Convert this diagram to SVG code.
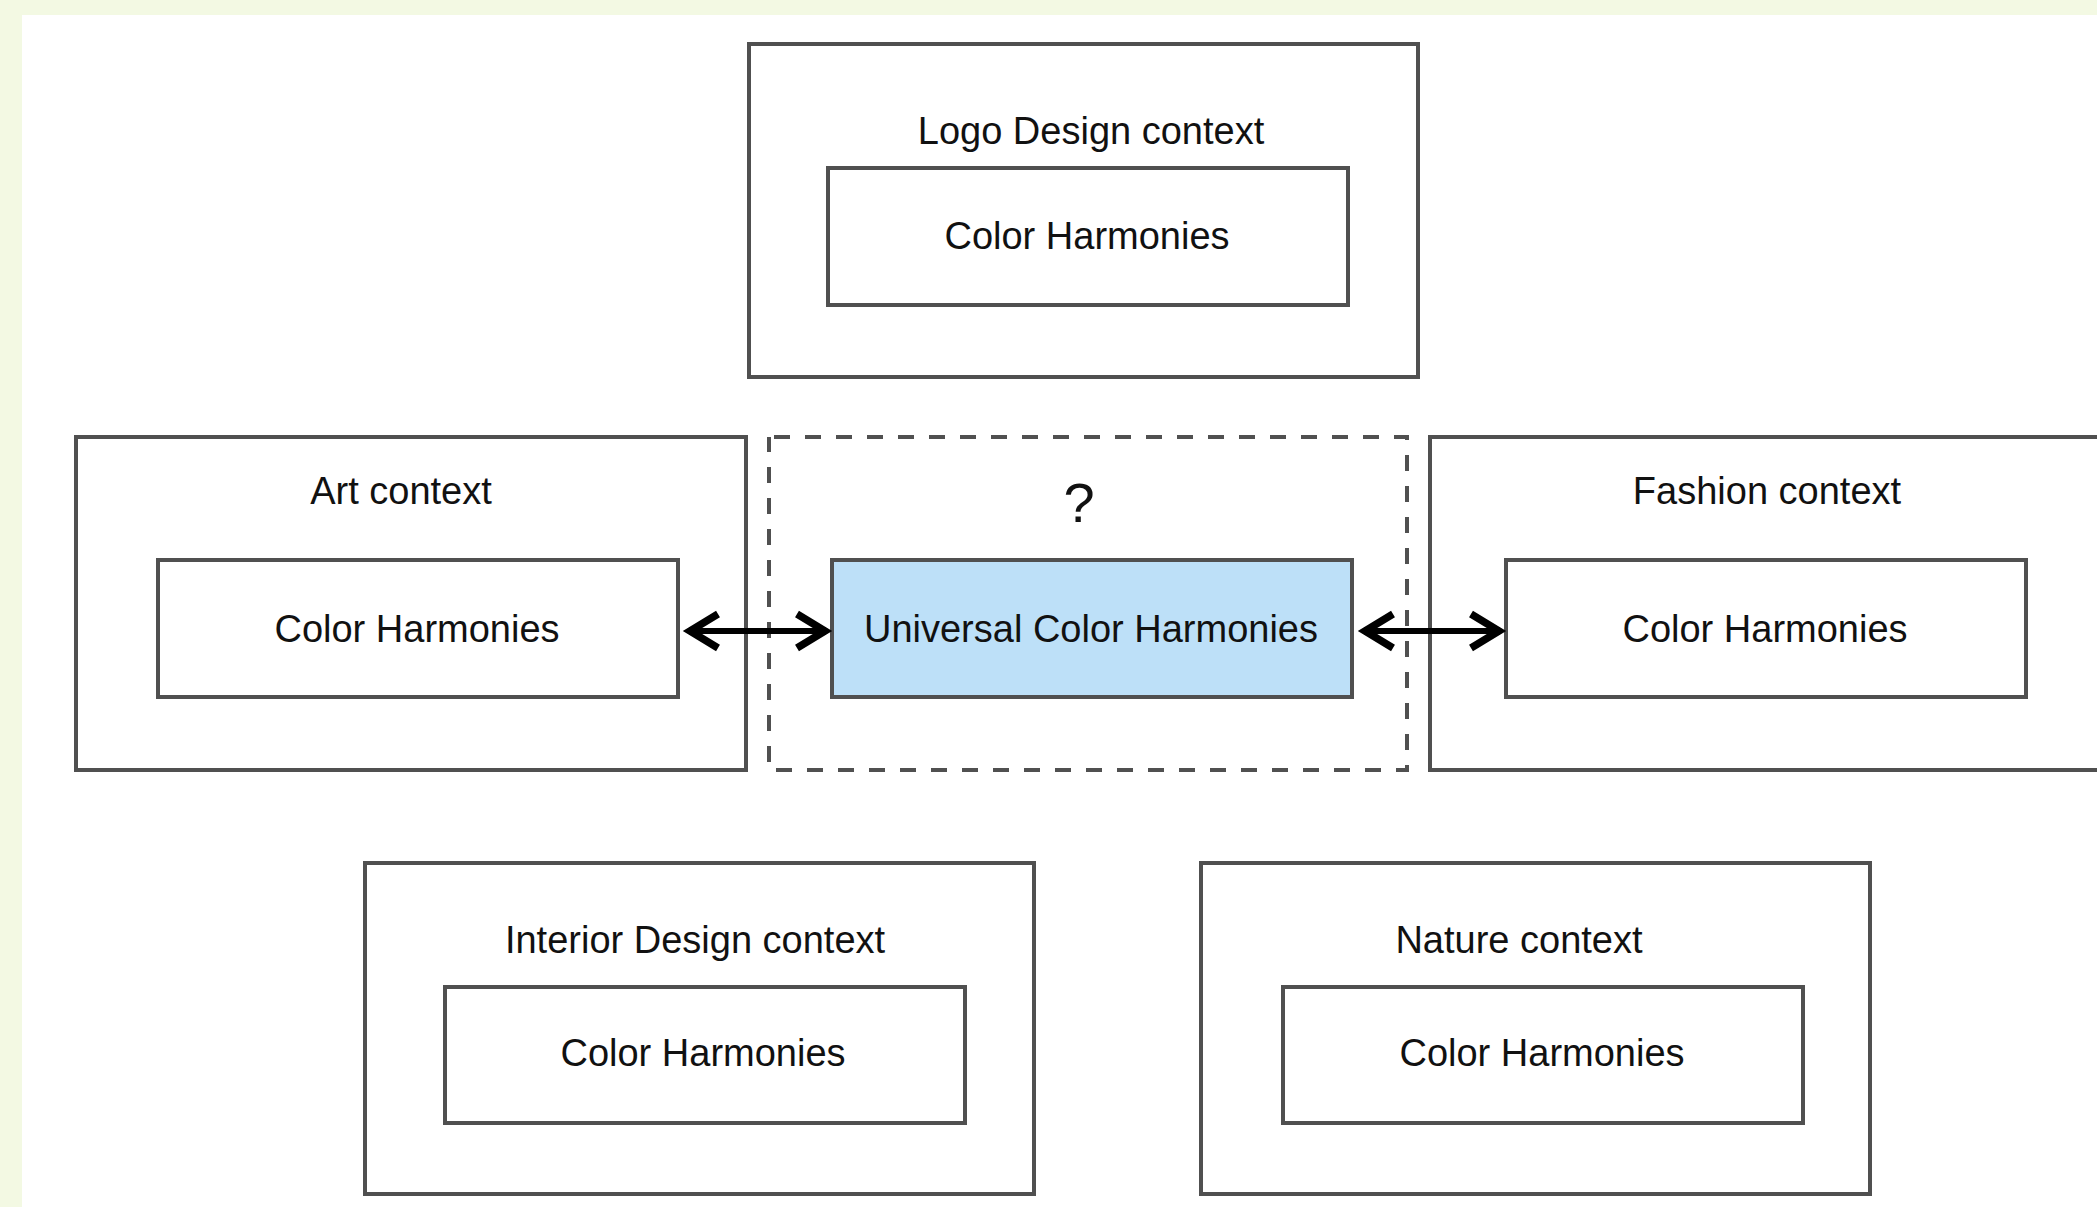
<svg xmlns="http://www.w3.org/2000/svg" width="2097" height="1207" viewBox="0 0 2097 1207">
<style>
.box{fill:#ffffff;stroke:#505050;stroke-width:4}
.dash{fill:none;stroke:#505050;stroke-width:4;stroke-dasharray:16 15;stroke-dashoffset:-5}
.uni{fill:#bde0f8;stroke:#505050;stroke-width:4}
.t{font-family:"Liberation Sans",Arial,sans-serif;font-size:38px;fill:#111;text-anchor:middle;dominant-baseline:central}
.q{font-size:56px}
.conn{stroke:#000;stroke-width:6;fill:none}
</style>
<defs>
<marker id="ah" markerUnits="userSpaceOnUse" viewBox="-36 -24 48 48" markerWidth="48" markerHeight="48" refX="0" refY="0" orient="auto-start-reverse" overflow="visible">
<path d="M-28,-17 L0,0 L-28,17" fill="none" stroke="#000" stroke-width="7.5" stroke-linecap="butt" stroke-linejoin="miter"/>
</marker>
</defs>
<rect x="0" y="0" width="2097" height="1207" fill="#f3f9e3"/>
<rect x="22" y="15" width="2075" height="1192" fill="#ffffff"/>

<g id="logo">
<rect class="box" x="749" y="44" width="669" height="333"/>
<text class="t" x="1091" y="131">Logo Design context</text>
<rect class="box" x="828" y="168" width="520" height="137"/>
<text class="t" x="1087" y="236">Color Harmonies</text>
</g>

<g id="art">
<rect class="box" x="76" y="437" width="670" height="333"/>
<text class="t" x="401" y="491">Art context</text>
<rect class="box" x="158" y="560" width="520" height="137"/>
<text class="t" x="417" y="629">Color Harmonies</text>
</g>

<g id="unknown">
<rect class="dash" x="769" y="437" width="638" height="333"/>
<text class="t q" x="1079" y="502">?</text>
</g>

<g id="universal">
<rect class="uni" x="832" y="560" width="520" height="137"/>
<text class="t" x="1091" y="629">Universal Color Harmonies</text>
</g>

<g id="fashion">
<rect class="box" x="1430" y="437" width="670" height="333"/>
<text class="t" x="1767" y="491">Fashion context</text>
<rect class="box" x="1506" y="560" width="520" height="137"/>
<text class="t" x="1765" y="629">Color Harmonies</text>
</g>

<g id="interior">
<rect class="box" x="365" y="863" width="669" height="331"/>
<text class="t" x="695" y="940">Interior Design context</text>
<rect class="box" x="445" y="987" width="520" height="136"/>
<text class="t" x="703" y="1053">Color Harmonies</text>
</g>

<g id="nature">
<rect class="box" x="1201" y="863" width="669" height="331"/>
<text class="t" x="1519" y="940">Nature context</text>
<rect class="box" x="1283" y="987" width="520" height="136"/>
<text class="t" x="1542" y="1053">Color Harmonies</text>
</g>

<g id="connectors">
<line class="conn" x1="690" y1="631" x2="825" y2="631" marker-start="url(#ah)" marker-end="url(#ah)"/>
<line class="conn" x1="1365" y1="631" x2="1499" y2="631" marker-start="url(#ah)" marker-end="url(#ah)"/>
</g>
</svg>
